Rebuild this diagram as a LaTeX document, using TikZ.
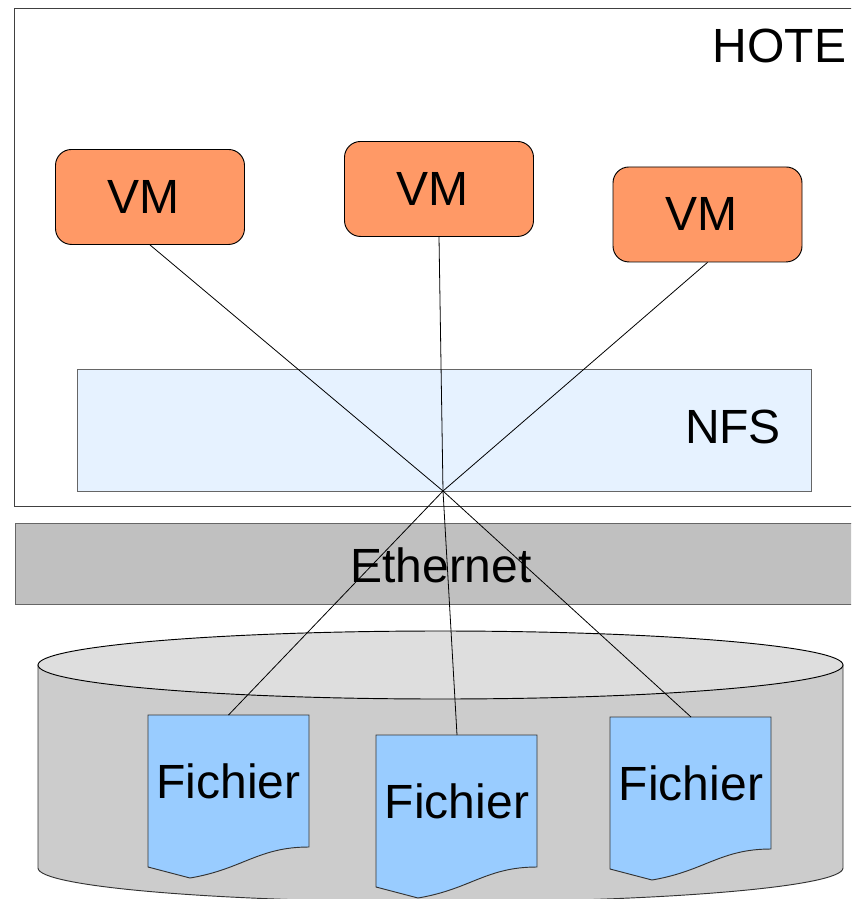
\documentclass[tikz,border=0pt]{standalone}
\usepackage{fontspec}
\setmainfont{Liberation Sans}
\definecolor{vmfill}{HTML}{FF9966}
\definecolor{filefill}{HTML}{99CCFF}
\definecolor{nfsfill}{HTML}{E6F2FF}
\definecolor{ethfill}{HTML}{C0C0C0}
\definecolor{cylside}{HTML}{CCCCCC}
\definecolor{cyltop}{HTML}{DEDEDE}
\newlength{\pxu}\setlength{\pxu}{0.75pt}
\tikzset{
  x=0.75pt,y=-0.75pt,
  lbl/.style={font=\fontsize{36pt}{40pt}\selectfont,inner sep=0pt,text=black},
  panel/.style={draw=black!75,line width=0.7pt,rectangle,inner sep=0pt,anchor=north west},
  vmbox/.style={lbl,draw=black,line width=0.7pt,fill=vmfill,rectangle,rounded corners=12pt,anchor=north,
    minimum width=189\pxu,text height=64\pxu,text depth=31\pxu},
  filebox/.style={lbl,rectangle,anchor=north,minimum width=161\pxu,text height=83\pxu,text depth=82\pxu},
  docpath/.style={draw=black!80,line width=0.7pt,fill=filefill},
  link/.style={draw=black,line width=0.6pt},
}
\newcommand{\docshape}[2]{%
  \path[docpath,shift={(#1,#2)}] (0,0) -- (161,0) -- (161,132)
    .. controls (110,132) and (95,154) .. (42,163)
    -- (0,152) -- cycle;}
\begin{document}
\begin{tikzpicture}
\clip (0,0) rectangle (851,899);
\fill[white] (0,0) rectangle (851,899);
% host
\node[panel,minimum width=850\pxu,minimum height=498\pxu] (hote) at (14,8) {};
\node[lbl,anchor=base] (hotelabel) at (779.5,63) {HOTE};
% NFS
\node[panel,fill=nfsfill,draw=black!60,minimum width=734\pxu,minimum height=122\pxu] (nfs) at (77,369) {};
\node[lbl,anchor=base] (nfslabel) at (733,443) {NFS};
% VMs
\node[vmbox] (vm1) at (150,149) {\kern-6\pxu VM\kern7\pxu};
\node[vmbox] (vm2) at (439,141) {\kern-6\pxu VM\kern7\pxu};
\node[vmbox] (vm3) at (707.5,166.5) {\kern-6\pxu VM\kern7\pxu};
% Ethernet
\node[panel,fill=ethfill,draw=black!60,minimum width=850\pxu,minimum height=81\pxu] (eth) at (15,523) {};
% Disk
\path[draw=black!80,line width=0.7pt,fill=cylside] (38,665) -- (38,868)
  arc[start angle=180,end angle=360,x radius=402.5,y radius=-34] -- (843,665) -- cycle;
\path[draw=black,line width=0.7pt,fill=cyltop] (440.5,665) ellipse [x radius=402.5,y radius=-34];
\coordinate (disk) at (440.5,665);
% Files
\docshape{148}{715}
\docshape{376}{735}
\docshape{610}{717}
\node[filebox] (f1) at (228.5,715) {Fichier};
\node[filebox] (f2) at (457,735) {Fichier};
\node[filebox] (f3) at (691,717) {Fichier};
% Ethernet label
\node[lbl,anchor=base] (ethlabel) at (441,582) {Ethernet};
% Links
\coordinate (hub) at (443,491);
\draw[link] (vm1.south) -- (hub);
\draw[link] (vm2.south) -- (hub);
\draw[link] (vm3.south) -- (hub);
\draw[link] (hub) -- (f1.north);
\draw[link] (hub) -- (f2.north);
\draw[link] (hub) -- (f3.north);
\end{tikzpicture}
\end{document}
